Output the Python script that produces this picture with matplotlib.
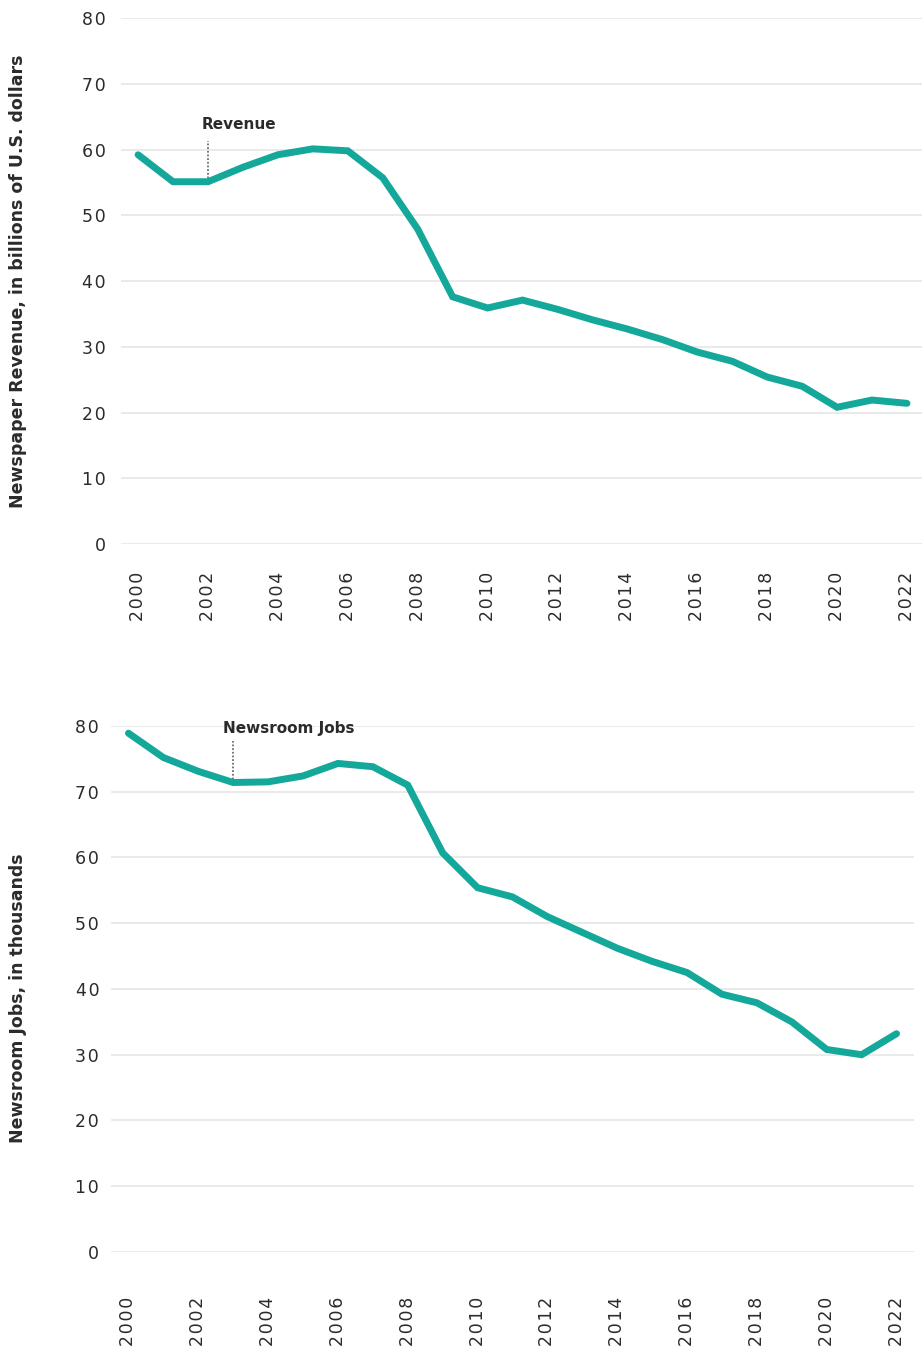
import matplotlib
matplotlib.use("Agg")
import matplotlib.pyplot as plt
from matplotlib.ticker import FuncFormatter
from matplotlib.transforms import offset_copy

# Newspaper revenue (billions USD) and newsroom jobs (thousands), 2000-2022
years = list(range(2000, 2023))
revenue = [59.2, 55.1, 55.1, 57.3, 59.2, 60.1, 59.8, 55.7, 47.9, 37.6, 35.9, 37.1,
           35.7, 34.1, 32.7, 31.1, 29.2, 27.8, 25.4, 24.0, 20.8, 21.9, 21.4]
jobs = [78.9, 75.2, 73.1, 71.4, 71.5, 72.4, 74.3, 73.8, 71.0, 60.7, 55.4, 54.0,
        51.0, 48.6, 46.2, 44.2, 42.5, 39.2, 37.9, 35.0, 30.8, 30.0, 33.2]
yticks = [0, 10, 20, 30, 40, 50, 60, 70, 80]
xticks = list(range(2000, 2023, 2))

TEAL = '#14a89b'
TEXT = '#2b2b2b'
GRID = '#e6e6e6'

plt.rcParams['font.family'] = ['DejaVu Sans']

# slightly tracked-out digits for the tick labels
spaced = FuncFormatter(lambda v, pos: '\u200a'.join(str(int(round(v)))))

fig = plt.figure(figsize=(9.22, 13.53), dpi=100)
ax1 = fig.add_axes([0.1312, 0.5979, 0.8688, 0.3888])
ax2 = fig.add_axes([0.1204, 0.07465, 0.8709, 0.3888])


def style(ax, xlim, xpad, ypad, ylabel):
    ax.set_xlim(*xlim)
    ax.set_ylim(0, 80)
    ax.set_yticks(yticks)
    ax.set_xticks(xticks)
    ax.xaxis.set_major_formatter(spaced)
    ax.yaxis.set_major_formatter(spaced)
    for s in ax.spines.values():
        s.set_visible(False)
    ax.grid(axis='y', color=GRID, lw=1.2)
    ax.set_axisbelow(True)
    ax.tick_params(axis='x', length=0, pad=xpad, labelsize=12.5, colors=TEXT,
                   labelrotation=90)
    ax.tick_params(axis='y', length=0, pad=ypad, labelsize=12.5, colors=TEXT)
    ax.set_ylabel(ylabel, fontsize=12.5, fontweight='bold', color=TEXT)


def note(ax, x, ytop, yline, ytext, label, dx):
    ax.plot([x, x], [yline, ytop], ls=(0, (1.2, 1.2)), color='#555555', lw=1.1, zorder=2)
    tr = offset_copy(ax.transData, fig=fig, x=dx, y=0, units='dots')
    ax.text(x, ytext, label, transform=tr, ha='left', va='baseline',
            fontsize=11, fontweight='bold', color=TEXT)


style(ax1, (1999.51, 2022.43), 20, 11, 'Newspaper Revenue, in billions of U.S. dollars')
ax1.plot(years, revenue, color=TEAL, lw=5, solid_capstyle='round',
         solid_joinstyle='miter', clip_on=False, zorder=3)
note(ax1, 2002, 61.3, revenue[2], 63.1, 'Revenue', -6)
ax1.yaxis.set_label_coords(-0.117, 0.5)

style(ax2, (1999.50, 2022.50), 32, 8.5, 'Newsroom Jobs, in thousands')
ax2.plot(years, jobs, color=TEAL, lw=5, solid_capstyle='round',
         solid_joinstyle='miter', clip_on=False, zorder=3)
note(ax2, 2003, 77.7, jobs[3], 79.0, 'Newsroom Jobs', -10)
ax2.yaxis.set_label_coords(-0.105, 0.483)

fig.savefig('out.png', dpi=100)
